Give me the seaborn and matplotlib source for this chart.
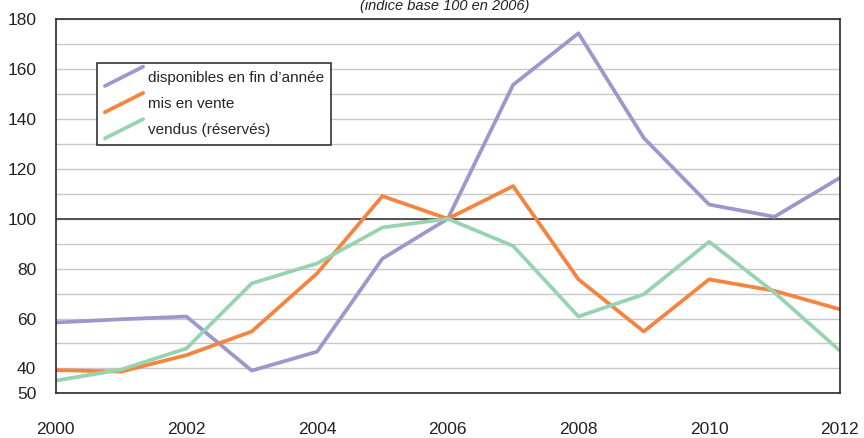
import pandas as pd
import seaborn as sns
import matplotlib.pyplot as plt
from matplotlib import font_manager
from matplotlib.lines import Line2D
from matplotlib.legend_handler import HandlerLine2D
from matplotlib.ticker import MultipleLocator

# Data (index base 100 in 2006)
years = list(range(2000, 2013))
disponibles = [58.4, 59.7, 60.8, 39.1, 46.7, 84.0, 100.0, 153.7, 174.4, 132.4, 105.7, 100.8, 116.4]
mis_en_vente = [39.3, 38.7, 45.3, 54.8, 78.1, 109.1, 100.0, 113.1, 75.7, 54.8, 75.7, 71.1, 63.7]
vendus = [35.1, 39.5, 48.0, 74.1, 82.1, 96.5, 100.0, 89.1, 60.8, 69.7, 90.8, 70.4, 47.1]

series_names = ["disponibles en fin d\u2019année", "mis en vente", "vendus (réservés)"]
colors = ["#9d97cb", "#f5843f", "#98d3b0"]
y_ticks = [30, 40, 60, 80, 100, 120, 140, 160, 180]
y_tick_labels = ["50", "40", "60", "80", "100", "120", "140", "160", "180"]
title = "(indice base 100 en 2006)"

df = pd.DataFrame({
    "year": years * 3,
    "value": disponibles + mis_en_vente + vendus,
    "serie": [series_names[0]] * 13 + [series_names[1]] * 13 + [series_names[2]] * 13,
})

sns.set_style("white")

# narrow sans looks closest to the original; fall back to the regular one
try:
    font_manager.findfont("Liberation Sans Narrow", fallback_to_default=False)
    fam = "Liberation Sans Narrow"
    fs, lfs = 14, 12.5
except Exception:
    fam = "Liberation Sans"
    fs, lfs = 12.5, 11
plt.rcParams["font.family"] = [fam, "DejaVu Sans"]


class DiagHandler(HandlerLine2D):
    # legend keys drawn as short diagonal strokes
    def create_artists(self, legend, orig_handle, xdescent, ydescent, width, height, fontsize, trans):
        ext = 0.4 * height
        line = Line2D([-xdescent, width - xdescent], [-ydescent - ext, height - ydescent + ext])
        line.set_color(orig_handle.get_color())
        line.set_linewidth(orig_handle.get_linewidth())
        line.set_solid_capstyle("round")
        line.set_transform(trans)
        return [line]


fig = plt.figure(figsize=(8.64, 4.38), dpi=100)
ax = fig.add_axes([0.0645, 0.102, 0.9075, 0.854])

sns.lineplot(data=df, x="year", y="value", hue="serie", palette=colors,
             linewidth=2.7, ax=ax, legend=True)

ax.set_xlim(2000, 2012)
ax.set_ylim(30, 180)
ax.set_xlabel("")
ax.set_ylabel("")

ax.set_xticks(years)
ax.set_xticklabels([str(y) if y % 2 == 0 else "" for y in years], fontsize=fs, color="#222222")
ax.set_yticks(y_ticks)
ax.set_yticklabels(y_tick_labels, fontsize=fs, color="#222222")
ax.yaxis.set_minor_locator(MultipleLocator(10))
ax.tick_params(axis="x", which="major", direction="out", length=5, width=1, color="#333333", pad=16)
ax.tick_params(axis="y", which="both", length=0, pad=14)

ax.grid(True, axis="y", which="both", color="#c8c8c8", linewidth=1)
ax.set_axisbelow(True)
ax.axhline(100, color="#3a3a3a", linewidth=1.2, zorder=1.5)

for s in ax.spines.values():
    s.set_color("#2a2a2a")
    s.set_linewidth(1.2)

handles, labels = ax.get_legend_handles_labels()
leg = ax.legend(handles, labels, loc="upper left", bbox_to_anchor=(0.053, 0.883),
                handler_map={Line2D: DiagHandler()}, fontsize=lfs, frameon=True,
                fancybox=False, framealpha=1, edgecolor="#222222",
                handlelength=2.5, handletextpad=0.3, labelspacing=0.8, borderpad=0.5,
                borderaxespad=0)
leg.get_frame().set_linewidth(1.1)

fig.text(445 / 864, 1 - 6 / 438, title, ha="center", va="center",
         fontsize=fs - 2, style="italic", color="#222222")

fig.savefig("out.png", dpi=100)
